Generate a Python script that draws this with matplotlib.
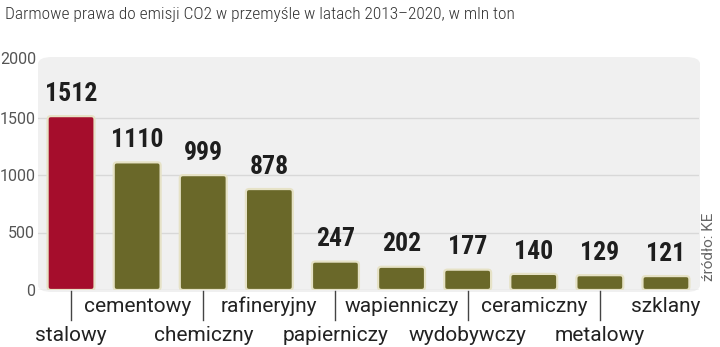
import matplotlib
matplotlib.use("Agg")
import matplotlib.pyplot as plt
from matplotlib.patches import FancyBboxPatch

categories = ["stalowy", "cementowy", "chemiczny", "rafineryjny", "papierniczy",
              "wapienniczy", "wydobywczy", "ceramiczny", "metalowy", "szklany"]
values = [1512, 1110, 999, 878, 247, 202, 177, 140, 129, 121]
yticks = [0, 500, 1000, 1500, 2000]

title = "Darmowe prawa do emisji CO2 w przemyśle w latach 2013–2020, w mln ton"
source = "źródło: KE"

narrow = ["Roboto Condensed", "Liberation Sans Narrow", "DejaVu Sans"]
plain = ["Roboto", "DejaVu Sans"]
red = "#a50d2c"
olive = "#6a6829"

fig = plt.figure(figsize=(7.2, 3.47), dpi=100)

# rounded grey panel behind the bars
panel = FancyBboxPatch((38 / 720, (347 - 292) / 347), (700 - 38) / 720, (292 - 57) / 347,
                       boxstyle="round,pad=0,rounding_size=0.02",
                       transform=fig.transFigure, facecolor="#f0f0f0",
                       edgecolor="none", zorder=-5)
fig.patches.append(panel)

ax = fig.add_axes([38 / 720, (347 - 290) / 347, (699 - 38) / 720, (290 - 60) / 347])
ax.set_facecolor("none")
ax.set_zorder(2)

x = list(range(len(values)))
colors = [red] + [olive] * (len(values) - 1)
bars = ax.bar(x, values, width=0.71, color=colors, zorder=3)

# swap plain rectangles for rounded ones (same geometry)
for rect, c in zip(bars, colors):
    rect.set_visible(False)
    fb = FancyBboxPatch((rect.get_x(), rect.get_y()), rect.get_width(), rect.get_height(),
                        boxstyle="round,pad=0,rounding_size=0.05",
                        mutation_aspect=560, facecolor=c, edgecolor="#e6e2c6",
                        linewidth=1.6, zorder=3)
    ax.add_patch(fb)

for i, v in enumerate(values):
    ax.text(i, v + 90, str(v), ha="center", va="bottom", fontsize=18.5,
            fontweight="bold", family=narrow, color="#1e1e1e", zorder=4)

ax.set_xlim(-0.5, 9.5)
ax.set_ylim(0, 2000)
ax.set_yticks(yticks[:-1])
ax.set_yticklabels([str(t) for t in yticks[:-1]])
ax.tick_params(axis="y", length=0, pad=2, labelsize=11.5, labelcolor="#555555")
ax.tick_params(axis="x", bottom=False, labelbottom=False)
for lbl in ax.get_yticklabels():
    lbl.set_family(plain)
ax.grid(axis="y", color="#d8d8d8", linewidth=1, zorder=1)
for s in ax.spines.values():
    s.set_visible(False)

# 2000 label sits on top edge of panel
ax.text(-2 / 661, 2000, str(yticks[-1]), transform=ax.get_yaxis_transform(),
        ha="right", va="center", fontsize=11.5, family=plain, color="#555555")

# category labels in two rows, lower row with leader lines
for i, name in enumerate(categories):
    if i % 2 == 0:
        ax.text(i, -443, name, ha="center", va="baseline", fontsize=15, family=plain,
                color="#222222", clip_on=False)
        ax.plot([i, i], [-10, -262], color="#444444", linewidth=1, clip_on=False)
    else:
        ax.text(i, -191, name, ha="center", va="baseline", fontsize=15,
                family=plain, color="#222222", clip_on=False)

fig.text(5 / 720, 1 - 14 / 347, title, ha="left", va="center", fontsize=12.5,
         fontweight="light", family=narrow, color="#333333")
fig.text(709 / 720, (347 - 247) / 347, source, rotation=90, ha="center", va="center",
         fontsize=11, family=plain, color="#666666")

fig.savefig("out.png", dpi=100)
